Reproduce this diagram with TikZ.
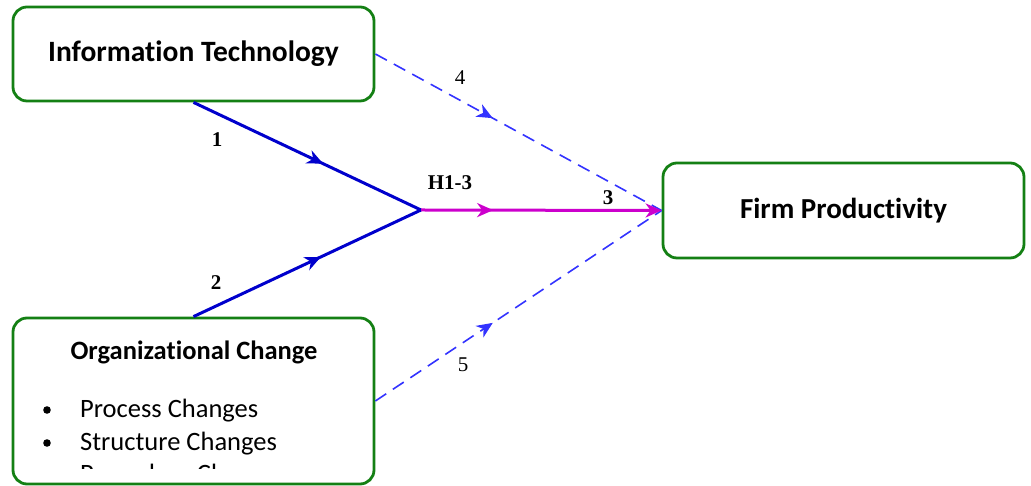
\documentclass[tikz,border=0pt]{standalone}
\usepackage{fontspec}
\newfontfamily\calfont[Ligatures=CommonOff]{Carlito}
\newfontfamily\tmsfont{Liberation Serif}
\usetikzlibrary{arrows.meta,decorations.markings}
\definecolor{boxgreen}{RGB}{20,128,20}
\definecolor{solblue}{RGB}{0,0,204}
\definecolor{dashblue}{RGB}{51,51,255}
\definecolor{magen}{RGB}{204,0,204}
\tikzset{
  x=1pt,y=1pt,
  mytip/.tip={Stealth[length=16pt,width=14pt,inset=5pt]},
  box/.style={draw=boxgreen,line width=2.8pt,rounded corners=14pt,minimum width=361pt,inner sep=0pt},
  midarrow/.style={postaction={decorate},decoration={markings,mark=at position #1 with {\arrow[solid]{mytip}}}},
  solidline/.style={draw=solblue,line width=3pt},
  dashline/.style={draw=dashblue,line width=1.6pt,dash pattern=on 13pt off 8pt},
  magline/.style={draw=magen,line width=3pt},
  lbl/.style={font=\tmsfont\fontsize{21}{24}\selectfont,inner sep=0pt},
  blbl/.style={font=\tmsfont\bfseries\fontsize{21}{24}\selectfont,inner sep=0pt},
  bul/.style={font=\calfont\fontsize{26.5}{30}\selectfont,anchor=base west,inner sep=0pt},
}
\begin{document}
\begin{tikzpicture}
\useasboundingbox (0,0) rectangle (1031,486);
\node[box,minimum height=94pt,font=\calfont\bfseries\fontsize{29.5}{32}\selectfont] (IT) at (193.5,432) {Information Technology};
\node[box,minimum height=166pt] (OC) at (193.5,85) {};
\node[box,minimum height=95pt,font=\calfont\bfseries\fontsize{29}{32}\selectfont] (FP) at (843.5,275.5) {Firm Productivity};
\node[font=\calfont\bfseries\fontsize{26.5}{30}\selectfont,inner sep=0pt] (OCt) at (194,134) {Organizational Change};
\begin{scope}
\clip (15,17) rectangle (372,160);
\node[bul] (b1) at (80,68) {Process Changes};
\node[bul] (b2) at (80,35) {Structure Changes};
\node[bul] (b3) at (80,3) {Procedure Changes};
\fill (47,76) circle (3.8pt);
\fill (47,43) circle (3.8pt);
\end{scope}
\coordinate (J) at (421,276);
\draw[solidline,midarrow=0.57] (IT.south) -- (J);
\draw[solidline,midarrow=0.56] (OC.north) -- (J);
\draw[dashline,midarrow=0.41] (IT.east) -- (FP.west);
\draw[dashline,midarrow=0.41] (OC.east) -- (FP.west);
\draw[magline,midarrow=0.3,-mytip] (J) -- (FP.west);
\node[blbl] (l1) at (217,346) {1};
\node[blbl] (l2) at (216,203) {2};
\node[blbl] (l13) at (450,303) {H1-3};
\node[blbl] (l3) at (608,288) {3};
\node[lbl] (l4) at (460,408) {4};
\node[lbl] (l5) at (463,121) {5};
\end{tikzpicture}
\end{document}
